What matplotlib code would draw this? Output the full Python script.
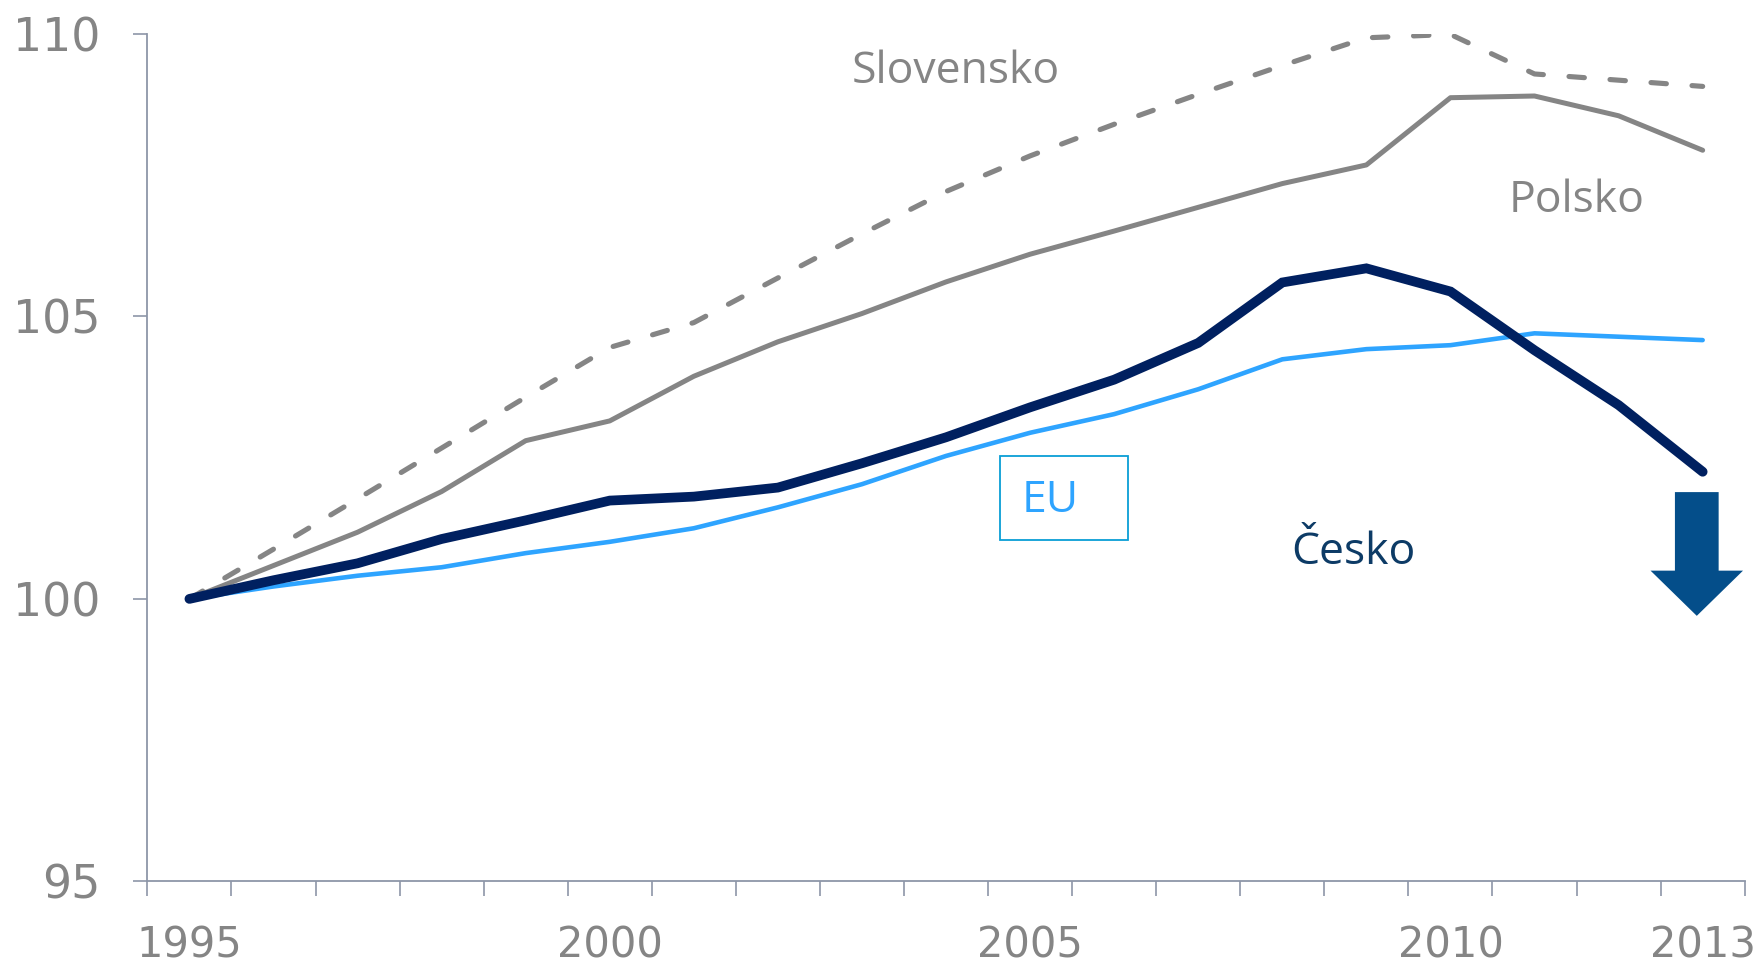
import numpy as np
import matplotlib
matplotlib.use('Agg')
import matplotlib.pyplot as plt
from matplotlib.patches import Rectangle, FancyArrow

# data (index 1995 = 100)
years = list(range(1995, 2014))
cesko = [100, 100.33, 100.63, 101.06, 101.39, 101.74, 101.81, 101.97, 102.40, 102.86,
         103.39, 103.88, 104.53, 105.60, 105.85, 105.44, 104.40, 103.43, 102.25]
eu = [100, 100.22, 100.41, 100.56, 100.81, 101.01, 101.25, 101.62, 102.03, 102.53,
      102.94, 103.27, 103.71, 104.24, 104.42, 104.49, 104.70, 104.64, 104.58]
polsko = [100, 100.59, 101.18, 101.90, 102.80, 103.15, 103.94, 104.55, 105.05, 105.61,
          106.10, 106.51, 106.93, 107.35, 107.68, 108.87, 108.90, 108.55, 107.94]
slovensko = [100, 100.88, 101.77, 102.67, 103.57, 104.45, 104.89, 105.68, 106.46, 107.21,
             107.84, 108.40, 108.93, 109.44, 109.93, 109.99, 109.29, 109.18, 109.07]
tick_years = ['1995', '2000', '2005', '2010', '2013']
y_ticks = [95, 100, 105, 110]

GRAY = '#858585'
AXIS = '#8d96a8'
NAVY = '#002060'
LIGHT = '#2ea4ff'
LABEL_FONT = ['Open Sans', 'DejaVu Sans']

fig = plt.figure(figsize=(17.65, 9.67), dpi=100)
ax = fig.add_axes([0.0835, 0.0885, 0.905, 0.8765])

x = np.arange(len(years))
ax.plot(x, slovensko, color=GRAY, lw=3.7, linestyle=(0, (3.0, 5.0)),
        dash_capstyle='round', zorder=2)
ax.plot(x, polsko, color=GRAY, lw=3.6, solid_capstyle='round', zorder=3)
ax.plot(x, eu, color=LIGHT, lw=3.3, solid_capstyle='round', zorder=4)
ax.plot(x, cesko, color=NAVY, lw=7, solid_capstyle='round',
        solid_joinstyle='miter', zorder=5)

ax.set_xlim(-0.5, len(years) - 0.5)
ax.set_ylim(95, 110)

# category boundaries carry the tick marks, labels sit at the centres
ax.set_xticks(np.arange(-0.5, len(years)))
ax.set_xticklabels([])
ax.tick_params(axis='x', which='major', length=11, width=1.2, color=AXIS)
lab_pos = [years.index(int(t)) for t in tick_years]
ax.set_xticks(lab_pos, minor=True)
ax.set_xticklabels(tick_years, minor=True)
ax.tick_params(axis='x', which='minor', length=0, pad=31, labelsize=30, labelcolor=GRAY)

ax.set_yticks(y_ticks)
ax.tick_params(axis='y', length=10, width=1.2, color=AXIS, pad=24,
               labelsize=33, labelcolor=GRAY)

for s in ['top', 'right']:
    ax.spines[s].set_visible(False)
for s in ['left', 'bottom']:
    ax.spines[s].set_color(AXIS)
    ax.spines[s].set_linewidth(1.3)

# labels
ax.text(9.12, 109.33, 'Slovensko', color=GRAY, fontsize=32, family=LABEL_FONT,
        ha='center', va='center')
ax.text(16.5, 107.05, 'Polsko', color=GRAY, fontsize=32, family=LABEL_FONT,
        ha='center', va='center')
ax.text(13.85, 100.82, 'Česko', color='#0d3b66', fontsize=32, family=LABEL_FONT,
        ha='center', va='center')

ax.add_patch(Rectangle((9.64, 101.04), 1.52, 1.49, fill=False, edgecolor='#0a9ed6',
                       lw=1.3, zorder=6))
ax.text(9.9, 101.74, 'EU', color=LIGHT, fontsize=32, family=LABEL_FONT,
        ha='left', va='center', zorder=6)

# down arrow
ax.add_patch(FancyArrow(17.93, 101.89, 0, -2.19, width=0.52, head_width=1.1,
                        head_length=0.8, length_includes_head=True,
                        color='#044e8a', lw=0, zorder=6, clip_on=False))

fig.savefig('out.png', dpi=100)
